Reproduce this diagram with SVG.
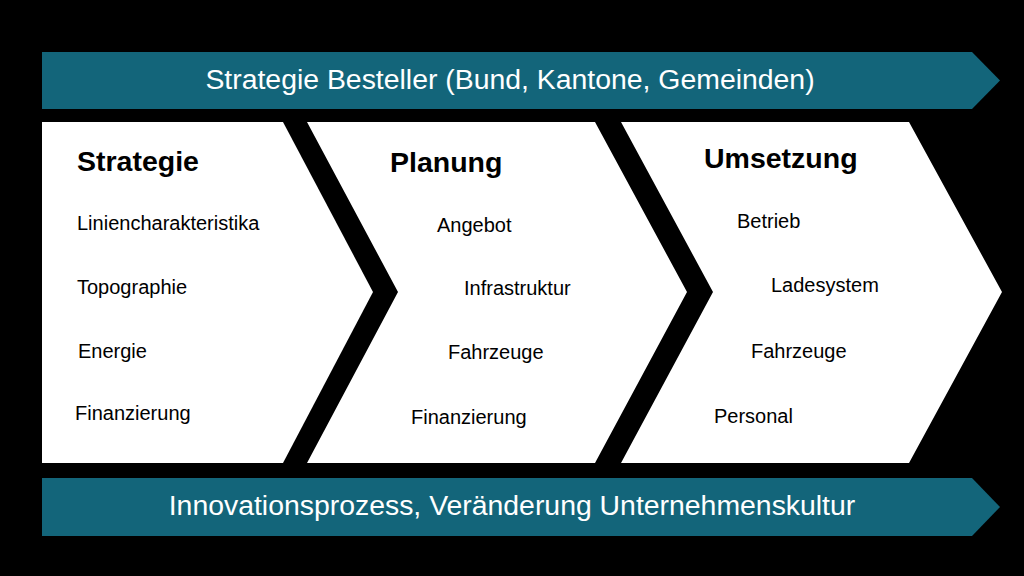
<svg xmlns="http://www.w3.org/2000/svg" width="1024" height="576" viewBox="0 0 1024 576">
<style>
.band{fill:#13657a}
.chev{fill:#ffffff}
.bt{font-family:"Liberation Sans",Arial,sans-serif;font-size:28.4px;fill:#ffffff}
.h{font-family:"Liberation Sans",Arial,sans-serif;font-size:28.5px;font-weight:bold;fill:#000000}
.i{font-family:"Liberation Sans",Arial,sans-serif;font-size:20px;fill:#000000}
</style>
<rect width="1024" height="576" fill="#000000"/>
<g id="top-band">
<polygon class="band" points="42,52 972,52 1000,80.5 972,109 42,109"/>
<text class="bt" x="510" y="89" text-anchor="middle">Strategie Besteller (Bund, Kantone, Gemeinden)</text>
</g>
<g id="strategie">
<polygon class="chev" points="42,122 283,122 373,292 283,463 42,463"/>
<text class="h" x="77" y="171">Strategie</text>
<text class="i" x="77" y="230">Liniencharakteristika</text>
<text class="i" x="77" y="294">Topographie</text>
<text class="i" x="78" y="358">Energie</text>
<text class="i" x="75" y="420">Finanzierung</text>
</g>
<g id="planung">
<polygon class="chev" points="307,122 595,122 687,292 595,463 307,463 398,292"/>
<text class="h" x="390" y="172">Planung</text>
<text class="i" x="437" y="232">Angebot</text>
<text class="i" x="464" y="295">Infrastruktur</text>
<text class="i" x="448" y="359">Fahrzeuge</text>
<text class="i" x="411" y="424">Finanzierung</text>
</g>
<g id="umsetzung">
<polygon class="chev" points="621,122 909,122 1002,292 909,463 621,463 713,292"/>
<text class="h" x="704" y="168">Umsetzung</text>
<text class="i" x="737" y="228">Betrieb</text>
<text class="i" x="771" y="292">Ladesystem</text>
<text class="i" x="751" y="358">Fahrzeuge</text>
<text class="i" x="714" y="423">Personal</text>
</g>
<g id="bottom-band">
<polygon class="band" points="42,478 972,478 1000,507 972,536 42,536"/>
<text class="bt" x="512" y="515" text-anchor="middle">Innovationsprozess, Veränderung Unternehmenskultur</text>
</g>
<g id="connectors"></g>
</svg>
